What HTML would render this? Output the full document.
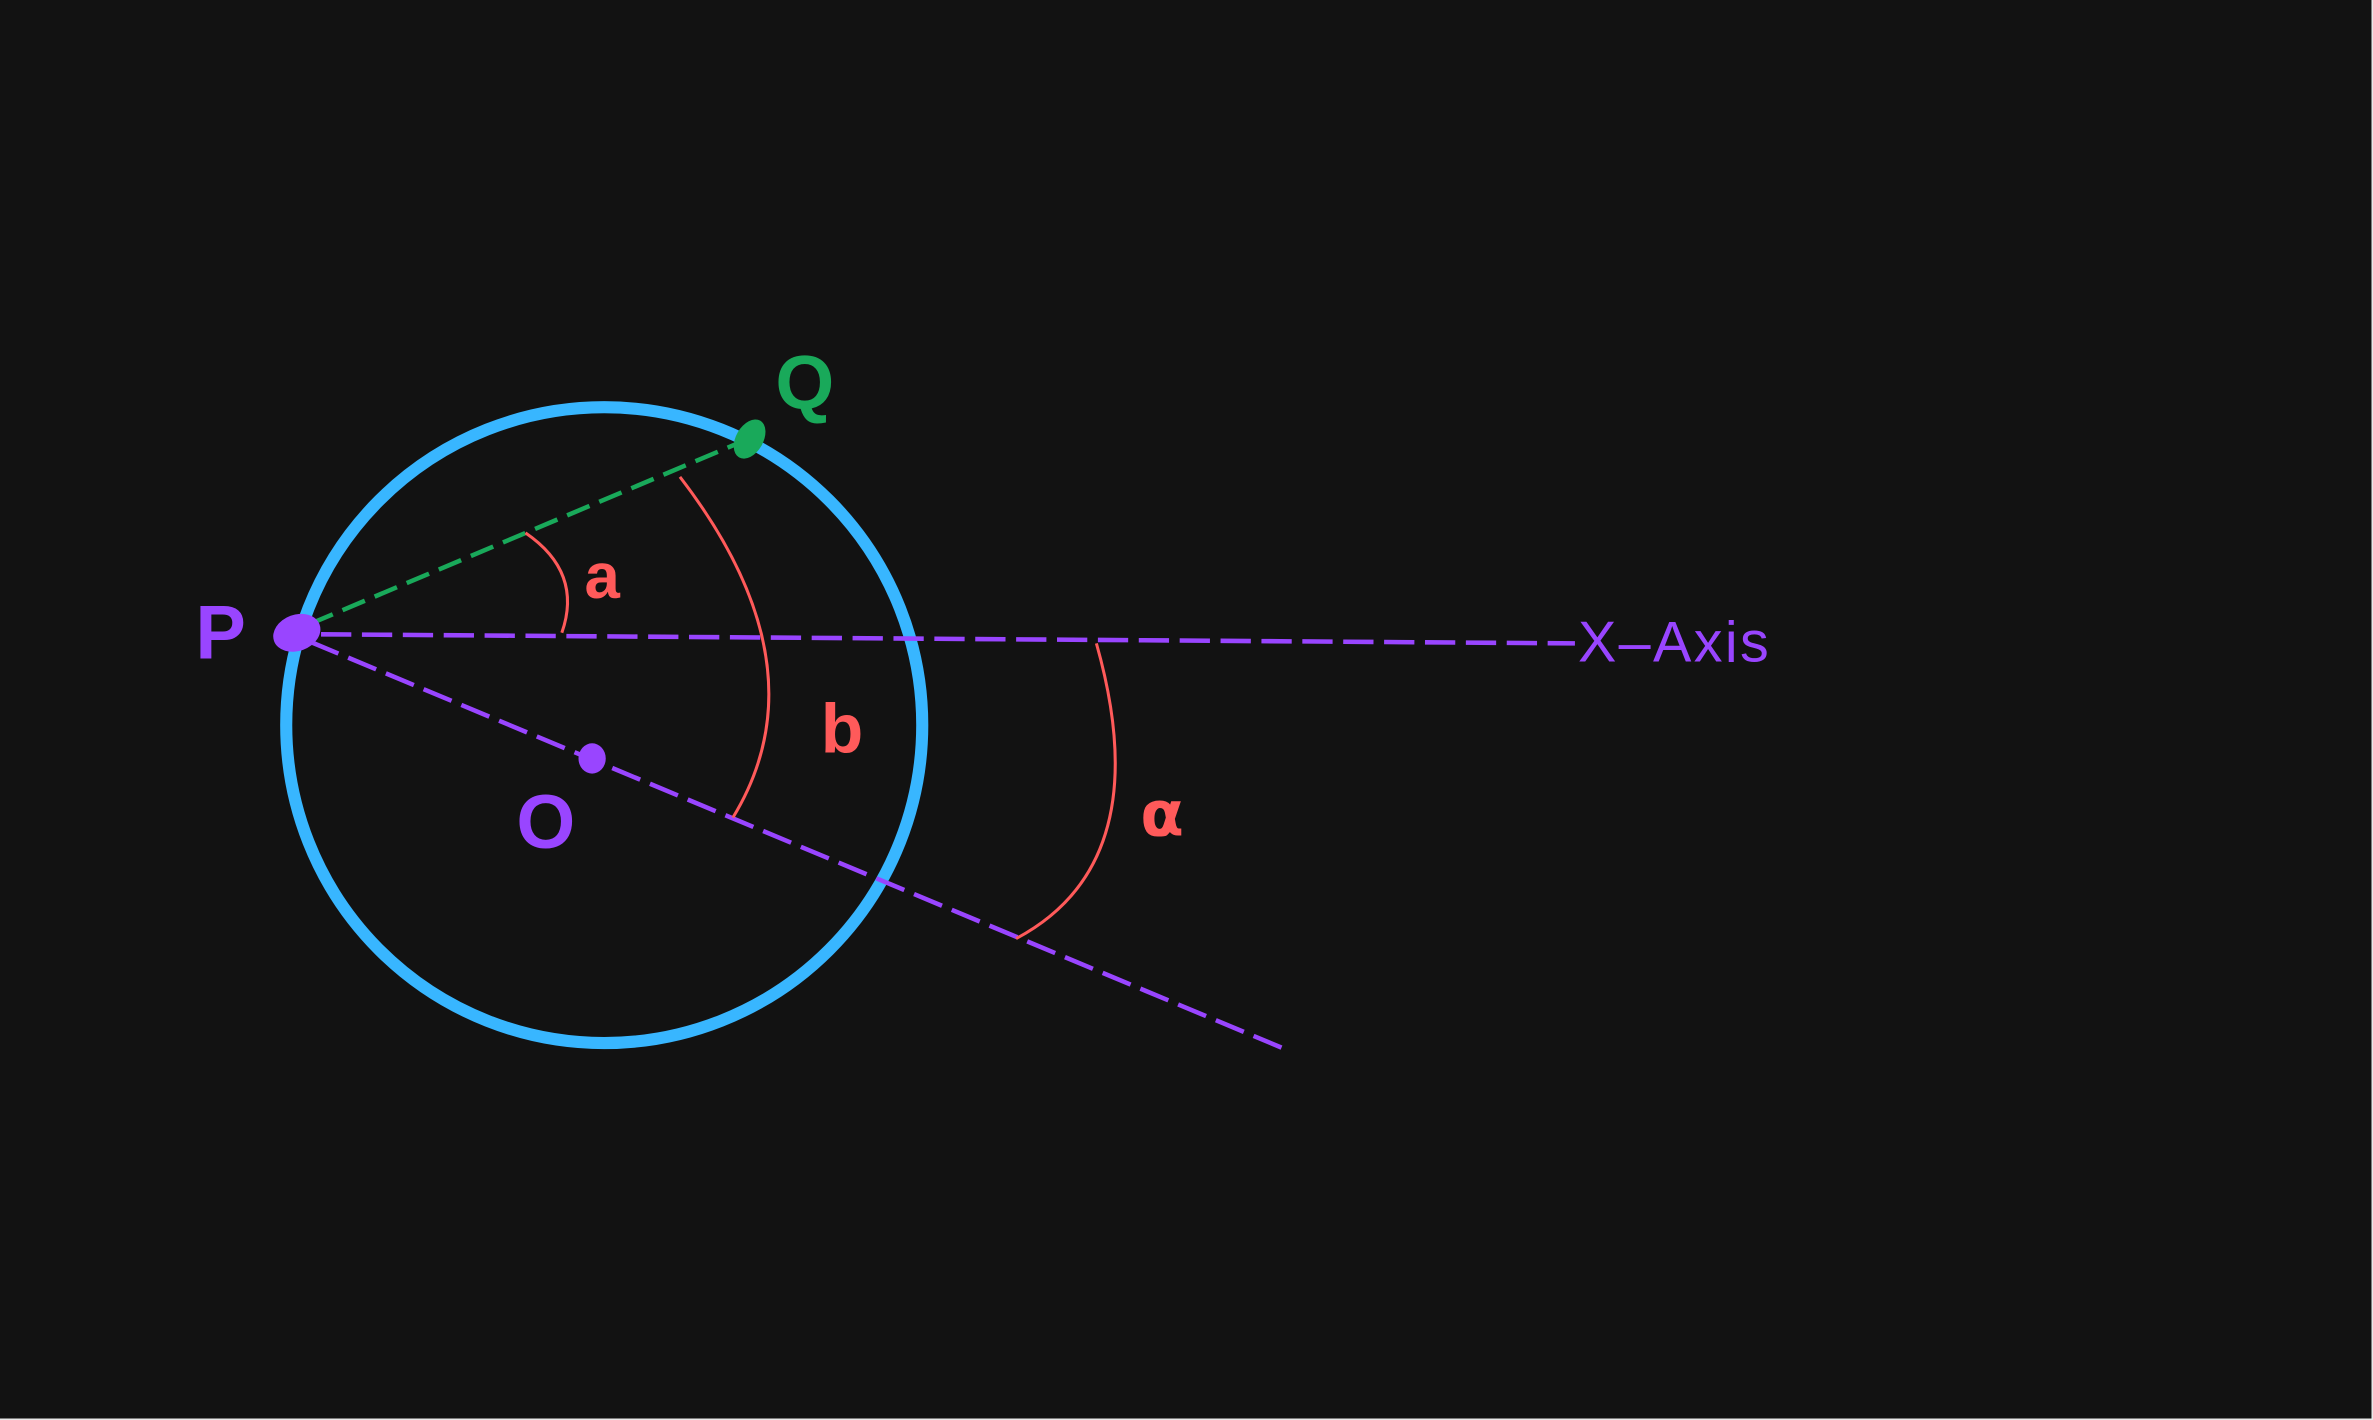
<!DOCTYPE html>
<html><head><meta charset="utf-8"><style>
html,body{margin:0;padding:0;background:#121212;}
svg{display:block;}
text{font-family:"Liberation Sans",sans-serif;}
</style></head><body>
<svg width="2373" height="1420" viewBox="0 0 1567 938" preserveAspectRatio="none" xmlns="http://www.w3.org/2000/svg">
<rect x="0" y="0" width="1567" height="938" fill="#121212"/>
<line x1="1566.5" y1="0" x2="1566.5" y2="938" stroke="#e8e8e8" stroke-width="1"/>
<line x1="0" y1="937.5" x2="1567" y2="937.5" stroke="#e8e8e8" stroke-width="1"/>
<circle cx="399" cy="479" r="210" fill="none" stroke="#38b6ff" stroke-width="8"/>
<line x1="212" y1="419" x2="1040" y2="425" stroke="#9945ff" stroke-width="3" stroke-dasharray="20,7"/>
<line x1="205" y1="412" x2="494" y2="290" stroke="#19a95a" stroke-width="3" stroke-dasharray="16,7"/>
<line x1="205" y1="424" x2="851" y2="694" stroke="#9945ff" stroke-width="3" stroke-dasharray="20,7"/>
<path d="M347,352 Q385,378 371,418" fill="none" stroke="#ff5a5a" stroke-width="2"/>
<path d="M449,315 Q545,440 484,540" fill="none" stroke="#ff5a5a" stroke-width="2"/>
<path d="M724,425 Q765,570 671,620" fill="none" stroke="#ff5a5a" stroke-width="2"/>
<ellipse cx="196" cy="418" rx="16" ry="12" transform="rotate(-20 196 418)" fill="#9945ff"/>
<ellipse cx="495" cy="290" rx="9" ry="14" transform="rotate(30 495 290)" fill="#19a95a"/>
<ellipse cx="391" cy="501" rx="9" ry="10" fill="#9945ff"/>
<text x="129" y="435" font-size="50" font-weight="bold" fill="#9945ff">P</text>
<text x="512" y="270" font-size="50" font-weight="bold" fill="#19a95a">Q</text>
<text x="341" y="560" font-size="50" font-weight="bold" fill="#9945ff">O</text>
<text x="386" y="395" font-size="42" font-weight="bold" fill="#ff5a5a">a</text>
<text x="542" y="497" font-size="46" font-weight="bold" fill="#ff5a5a">b</text>
<text x="753" y="552" font-size="42" font-weight="bold" fill="#ff5a5a" style="font-family:'DejaVu Sans',sans-serif">α</text>
<text x="1042" y="437" font-size="38" fill="#9945ff" textLength="126">X–Axis</text>
</svg>
</body></html>
